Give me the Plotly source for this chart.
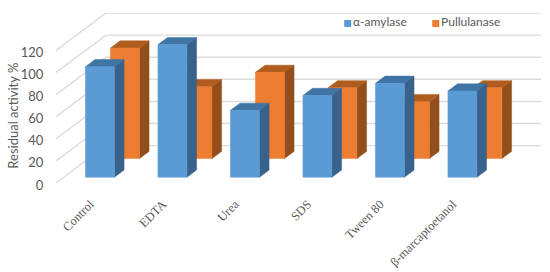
import plotly.graph_objects as go

categories = ["Control", "EDTA", "Urea", "SDS", "Tween 80", "β-marcaptoetanol"]
alpha_amylase = [100, 120, 60.5, 74, 85, 78]
pullulanase = [100, 65, 78, 64, 51.5, 64]
y_ticks = [0, 20, 40, 60, 80, 100, 120]

W, H = 550, 272
L, R, T, B = 56, 540.7, 13, 183.5   # plot-area pixels
DEPTH_X = 0.69    # floor depth, in category units
DEPTH_Y = 33.8    # floor depth, in value units
BAR_W = 0.40
BAR_L = 0.30


def proj(x, v, d):
    return x + d * DEPTH_X, v + d * DEPTH_Y


def poly(points, xs, ys):
    for p in points:
        px, py = proj(*p)
        xs.append(px)
        ys.append(py)
    first = proj(*points[0])
    xs.extend([first[0], None])
    ys.extend([first[1], None])


def faces(values, d0, d1):
    front, side, top = ([], []), ([], []), ([], [])
    for i, v in enumerate(values):
        a, b = i + BAR_L, i + BAR_L + BAR_W
        poly([(a, 0, d0), (b, 0, d0), (b, v, d0), (a, v, d0)], *front)
        poly([(b, 0, d0), (b, 0, d1), (b, v, d1), (b, v, d0)], *side)
        poly([(a, v, d0), (b, v, d0), (b, v, d1), (a, v, d1)], *top)
    return front, side, top


fig = go.Figure()

# walls' gridlines
gx, gy = [], []
for v in y_ticks:
    for p in [(0, v, 0), (0, v, 1), (len(categories), v, 1)]:
        px, py = proj(*p)
        gx.append(px)
        gy.append(py)
    gx.append(None)
    gy.append(None)
fig.add_trace(go.Scatter(x=gx, y=gy, mode="lines", line=dict(color="#DCDCDC", width=1.4),
                         hoverinfo="skip", showlegend=False, cliponaxis=False))


def add_bars(name, values, d0, d1, cf, cs, ct):
    front, side, top = faces(values, d0, d1)
    for (xs, ys), c in ((side, cs), (top, ct), (front, cf)):
        fig.add_trace(go.Scatter(x=xs, y=ys, mode="lines", fill="toself", fillcolor=c,
                                 line=dict(width=0.5, color=c), name=name,
                                 hoverinfo="skip", showlegend=False, cliponaxis=False))


add_bars("Pullulanase", pullulanase, 0.654, 0.846, "#ED7D31", "#924F1C", "#B15C1F")
add_bars("α-amylase", alpha_amylase, 0.154, 0.346, "#5B9BD5", "#38618B", "#3F75A5")

fw = R - L
fh = B - T
# legend keys
for name, c, kx in (("α-amylase", "#5B9BD5", 347.5), ("Pullulanase", "#ED7D31", 435.5)):
    fig.add_trace(go.Scatter(
        x=[(kx - L) / fw * (len(categories) + DEPTH_X)],
        y=[(B - 23.5) / fh * (120 + DEPTH_Y)],
        mode="markers+text", marker=dict(symbol="square", size=7, color=c),
        text=[name], textposition="middle right",
        textfont=dict(family="Lato", size=12, color="#595959"),
        name=name, hoverinfo="skip", showlegend=False, cliponaxis=False))

fig.update_layout(
    width=W, height=H, autosize=False,
    paper_bgcolor="white", plot_bgcolor="white",
    margin=dict(l=L, r=W - R, t=T, b=H - B, pad=0),
    showlegend=False,
    xaxis=dict(range=[0, len(categories) + DEPTH_X], tickmode="array",
               tickvals=[i + 0.5 for i in range(len(categories))], ticktext=categories,
               tickangle=-45, showgrid=False, zeroline=False, showline=False,
               ticks="outside", ticklen=8, tickcolor="rgba(0,0,0,0)", ticklabelshift=-2,
               tickfont=dict(family="Liberation Serif", size=12.5, color="#595959"),
               automargin=False),
    yaxis=dict(range=[0, 120 + DEPTH_Y], tickmode="array", tickvals=y_ticks,
               ticktext=[str(t) for t in y_ticks], showgrid=False, zeroline=False, showline=False,
               ticks="outside", ticklen=9, tickcolor="rgba(0,0,0,0)", ticklabelshift=2,
               tickfont=dict(family="Lato", size=13, color="#595959"),
               automargin=False),
    annotations=[dict(text="Residual activity %", xref="paper", yref="paper",
                      x=(13 - L) / fw, y=(B - 116) / fh, xanchor="center", yanchor="middle",
                      textangle=-90, showarrow=False,
                      font=dict(family="Lato", size=13, color="#595959"))],
)
fig.write_html("out.html", config={"displayModeBar": False},
               post_script="document.body.style.margin='0';")
